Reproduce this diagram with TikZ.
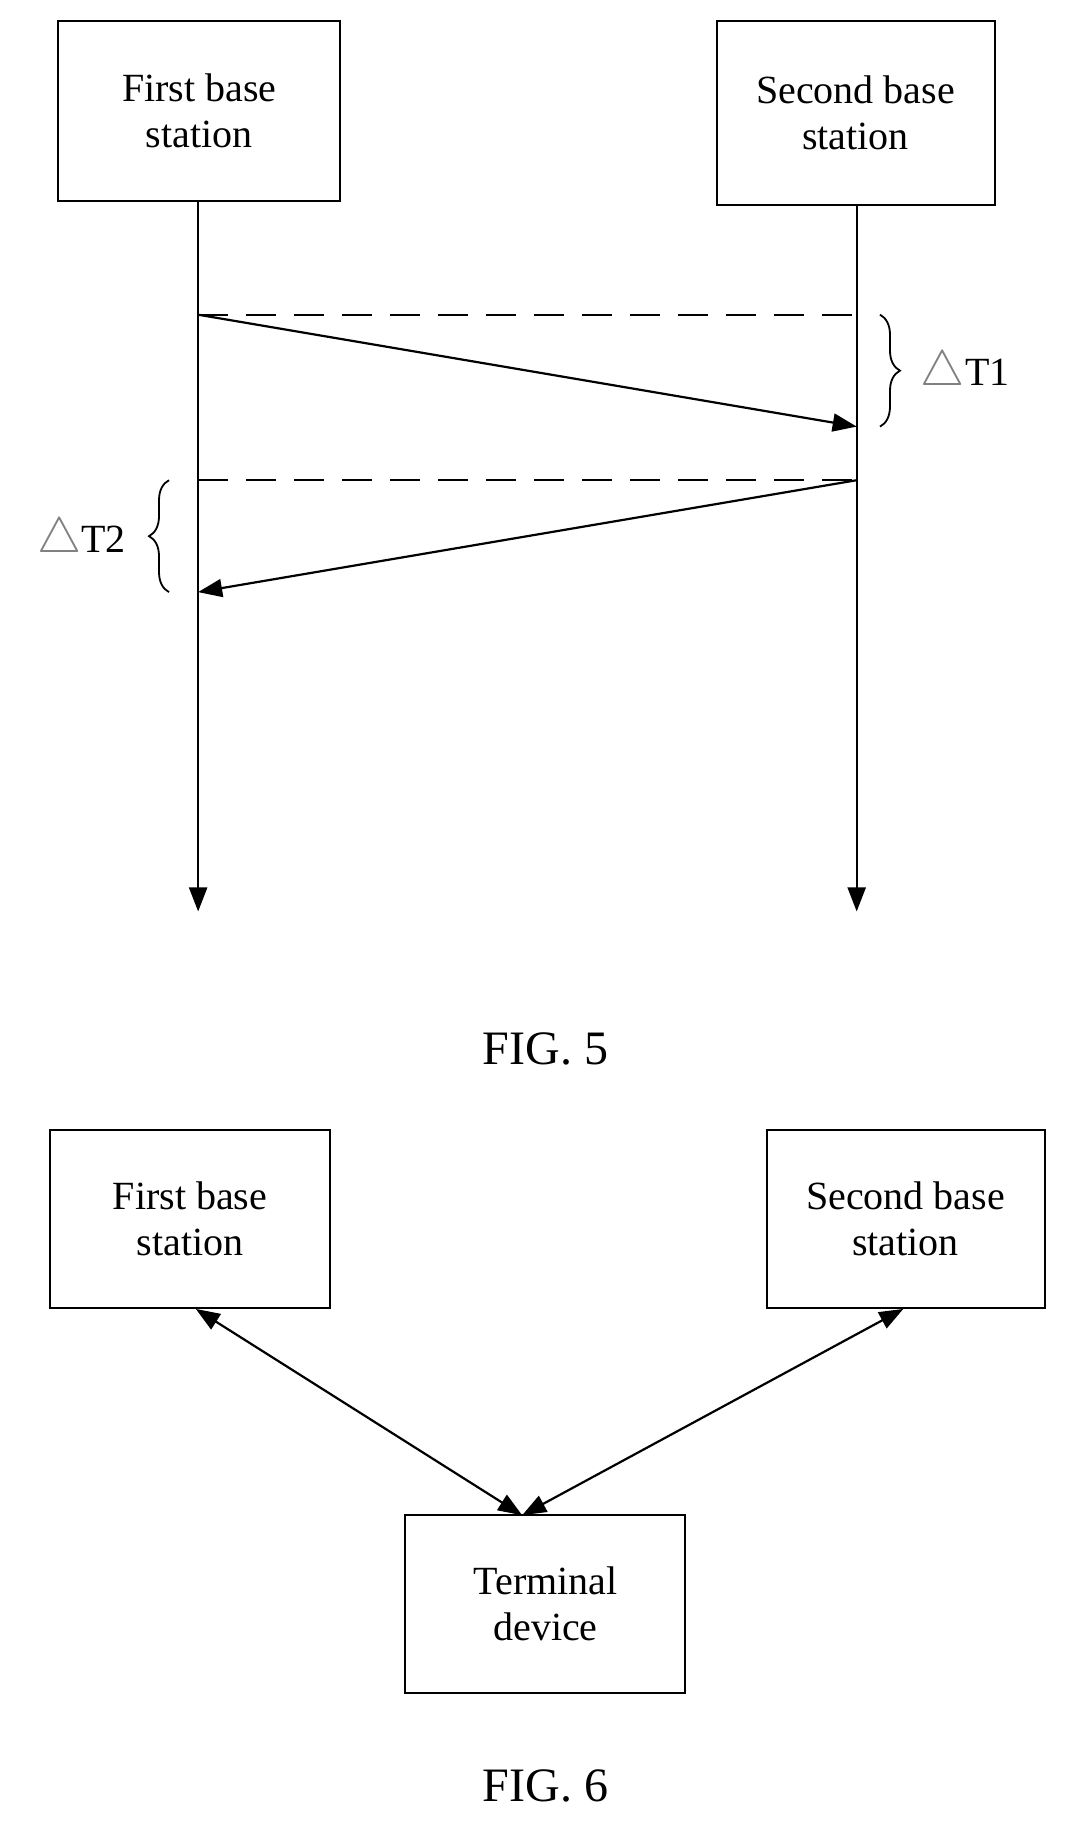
\documentclass[tikz,border=0pt]{standalone}
\usepackage{fontspec}
\setmainfont{Liberation Serif}
\usetikzlibrary{arrows.meta,decorations.pathreplacing}
\begin{document}
\begin{tikzpicture}[x=0.5828pt,y=-0.5828pt,
  box/.style={draw,line width=1pt,minimum width=142pt,minimum height=90pt,align=center,font=\fontsize{20}{23}\selectfont,inner sep=0pt},
  ln/.style={line width=1.1pt},
  arr/.style={ln,-{Triangle[length=12pt,width=9pt]}},
  dsh/.style={ln,dash pattern=on 15pt off 9pt},
  lab/.style={font=\fontsize{20}{23}\selectfont,inner sep=1pt},
  figcap/.style={font=\fontsize{24}{28}\selectfont}]
\useasboundingbox (0,0) rectangle (918,1573.5);
\node[box,minimum width=141pt,minimum height=90pt] (b1) at (171,95) {First base\\station};
\node[box,minimum width=139pt,minimum height=92pt] (b2) at (734,97) {Second base\\station};
\coordinate (e1) at (170,782); \coordinate (e2) at (735,782);
\draw[arr] (b1.south -| e1) -- (e1);
\draw[arr] (b2.south -| e2) -- (e2);
\coordinate (p1) at (170,270); \coordinate (q1) at (735,270);
\coordinate (r1) at (735,366);
\coordinate (p2) at (735,412); \coordinate (q2) at (170,412);
\coordinate (r2) at (170,508);
\draw[dsh] (p1) -- (q1);
\draw[arr] (p1) -- (r1);
\draw[dsh] (q2) -- (p2);
\draw[arr] (p2) -- (r2);
\draw[ln,line width=0.9pt,decorate,decoration={brace,amplitude=10pt}] (755,270) -- (755,366);
\draw[ln,line width=0.9pt,decorate,decoration={brace,amplitude=10pt}] (145,508) -- (145,412);
\node[lab,anchor=west] (t1) at (788,320) {\textcolor{gray}{\fontsize{24}{24}\selectfont$\triangle$}T1};
\node[lab,anchor=east] (t2) at (110,463) {\textcolor{gray}{\fontsize{24}{24}\selectfont$\triangle$}T2};
\node[figcap] (f5) at (468,900) {FIG. 5};
\node[box,minimum width=140pt,minimum height=89pt] (c1) at (163,1046) {First base\\station};
\node[box,minimum width=139pt,minimum height=89pt] (c2) at (777,1046) {Second base\\station};
\node[box,minimum width=140pt,minimum height=89pt] (td) at (468,1376) {Terminal\\device};
\coordinate (m) at (448,1300);
\draw[ln,{Triangle[length=12pt,width=9pt]}-{Triangle[length=12pt,width=9pt]}] (168,1123) -- (m);
\draw[ln,{Triangle[length=12pt,width=9pt]}-{Triangle[length=12pt,width=9pt]}] (775,1123) -- (m);
\node[figcap] (f6) at (468,1532) {FIG. 6};
\end{tikzpicture}
\end{document}
